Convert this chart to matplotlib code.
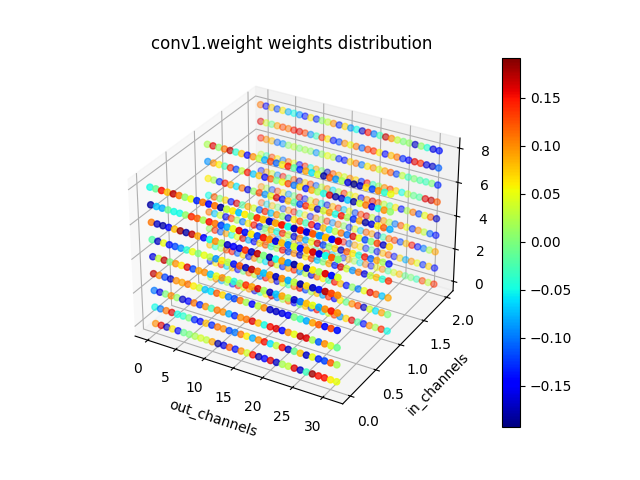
import numpy as np
import matplotlib
matplotlib.use("Agg")
import matplotlib.pyplot as plt

# weights, one row per kernel index (bottom row first)
plane_in0 = [
    [0.10,0.16,-0.17,0.06,-0.15,-0.01,0.00,0.02, 0.04,0.03,0.09,-0.18,-0.16,0.12,-0.14,0.10, 0.04,0.15,-0.18,-0.15,0.16,-0.17,0.02,0.03, 0.16,-0.17,-0.03,0.18,0.15,0.15,0.06,0.05],
    [-0.05,-0.10,0.11,0.16,-0.05,-0.04,0.00,-0.13, -0.15,0.08,-0.13,0.11,0.10,-0.12,-0.10,0.11, 0.06,-0.08,0.10,0.15,-0.06,0.03,0.15,-0.17, -0.01,0.08,-0.17,0.05,-0.13,-0.12,0.12,0.02],
    [-0.10,-0.16,0.00,0.10,0.01,-0.17,-0.15,0.11, -0.13,0.10,-0.03,0.11,0.10,-0.08,-0.13,0.10, 0.11,0.16,0.08,-0.05,0.15,0.16,-0.15,0.10, 0.05,0.17,0.16,0.02,-0.11,0.10,0.04,-0.01],
    [0.17,0.10,-0.12,-0.17,0.10,0.09,0.11,0.06, 0.04,-0.07,-0.06,0.12,0.07,-0.10,-0.12,0.11, 0.02,-0.15,0.03,0.10,-0.17,-0.17,-0.16,-0.15, 0.00,-0.03,-0.08,0.09,0.12,-0.15,0.13,-0.14],
    [-0.16,0.03,0.17,0.00,0.10,0.06,0.16,-0.12, 0.09,0.10,-0.07,0.05,0.10,0.04,-0.04,0.01, 0.14,0.09,0.16,0.02,-0.17,-0.07,0.09,0.02, -0.17,-0.10,0.08,0.05,-0.08,0.10,0.15,0.10],
    [-0.02,-0.17,0.05,-0.14,-0.12,-0.09,-0.04,0.05, 0.00,0.05,0.03,-0.09,0.06,0.03,-0.14,0.12, -0.17,0.17,0.11,-0.07,0.09,-0.17,0.10,-0.08, 0.03,-0.18,0.07,-0.17,-0.14,0.17,0.13,0.10],
    [0.11,-0.17,-0.18,-0.15,0.08,0.18,-0.18,0.17, 0.09,-0.15,-0.05,0.10,0.02,-0.17,-0.15,-0.16, 0.14,-0.17,0.17,0.00,-0.18,-0.05,0.09,-0.09, -0.18,0.07,-0.17,0.06,0.02,0.16,-0.14,0.04],
    [-0.18,-0.07,-0.08,-0.01,-0.05,-0.05,0.01,0.14, 0.12,0.02,0.15,0.11,-0.12,-0.08,0.05,0.16, -0.14,0.06,-0.12,0.15,0.10,-0.16,0.08,-0.10, 0.04,-0.14,0.09,0.16,-0.16,-0.05,0.12,0.00],
    [-0.05,-0.01,0.15,0.08,0.17,0.11,0.01,0.05, -0.13,0.11,-0.15,0.11,-0.18,0.03,0.06,-0.07, 0.06,0.01,0.14,0.08,-0.17,0.09,0.15,-0.05, -0.17,0.15,-0.16,0.12,-0.09,0.08,-0.14,0.16],
]
plane_in1 = [
    [0.03,0.10,-0.08,0.01,-0.13,0.14,0.05,0.10, -0.16,-0.04,0.06,0.16,-0.10,0.02,0.11,-0.15, 0.00,0.08,-0.12,0.15,-0.06,0.04,0.13,-0.09, 0.07,0.16,-0.02,-0.14,0.10,0.02,0.14,-0.05],
    [-0.13,0.06,0.14,-0.06,0.08,-0.15,0.00,0.12, 0.03,-0.10,0.15,0.09,-0.16,0.05,-0.03,0.11, 0.16,-0.12,0.02,0.08,-0.08,0.14,-0.15,0.06, -0.01,0.10,0.13,-0.17,0.04,-0.06,0.09,0.00],
    [0.08,-0.04,0.02,0.12,0.15,-0.11,0.07,-0.14, 0.10,0.00,-0.06,0.16,0.04,-0.13,0.09,0.14, -0.09,0.03,-0.16,0.11,0.06,-0.03,0.15,0.08, -0.14,0.01,-0.10,0.05,0.16,0.12,-0.07,0.09],
    [0.01,0.14,-0.11,0.09,-0.05,0.05,0.16,-0.08, -0.15,0.07,0.12,-0.03,0.02,0.15,-0.12,0.10, -0.17,0.06,0.13,-0.07,0.00,0.09,-0.13,0.16, 0.04,-0.09,0.11,-0.16,0.03,0.08,-0.04,0.14],
    [0.11,-0.07,0.04,-0.15,0.13,0.02,-0.10,0.06, 0.15,-0.13,0.00,0.08,-0.05,0.14,0.03,-0.16, 0.10,-0.08,0.05,0.16,-0.12,0.01,0.07,-0.17, 0.12,0.06,-0.04,0.15,-0.11,0.09,0.02,-0.14],
    [-0.05,0.12,0.00,0.07,-0.14,0.16,-0.02,0.09, 0.04,-0.11,0.14,-0.07,0.10,0.01,-0.16,0.06, 0.12,-0.03,0.15,-0.15,0.08,-0.06,0.03,0.11, -0.10,0.16,0.05,-0.12,0.00,0.13,-0.17,0.07],
    [0.06,0.02,-0.13,0.15,0.09,-0.06,0.11,-0.16, 0.01,0.13,-0.09,0.05,0.16,-0.14,0.08,-0.02, -0.12,0.14,0.07,-0.17,0.04,0.10,-0.05,0.15, 0.02,-0.13,0.09,-0.18,-0.16,0.06,0.12,-0.08],
    [-0.09,0.10,0.06,-0.03,0.14,-0.12,0.03,0.15, -0.07,0.08,-0.15,0.12,0.00,0.05,0.13,-0.10, 0.07,-0.14,0.09,0.02,-0.05,0.16,-0.18,-0.17,-0.07,-0.18,0.04,0.11,-0.16,-0.05,0.10,0.01],
    [0.02,0.16,0.01,0.11,0.17,-0.04,0.08,-0.15, 0.10,0.03,-0.08,0.13,-0.11,0.06,0.15,-0.02, -0.13,0.09,-0.06,0.04,-0.18,0.12,-0.09,0.02, -0.16,-0.19,-0.17,0.07,-0.12,0.10,-0.04,0.05],
]
plane_in2 = [
    [-0.01,0.03,0.11,-0.09,0.05,-0.05,0.09,-0.12, 0.12,0.03,-0.03,0.10,0.15,-0.07,0.00,-0.13, 0.08,0.02,-0.06,0.11,-0.14,0.05,0.10,-0.02, 0.04,0.08,-0.01,0.00,-0.03,0.13,0.03,0.14],
    [0.05,0.10,-0.15,0.01,0.13,-0.03,0.11,0.07, -0.10,0.16,0.00,-0.14,0.10,0.03,-0.06,0.15, -0.11,0.09,0.06,-0.13,-0.01,-0.15,0.08,0.12, -0.14,0.07,-0.08,0.10,0.05,-0.13,0.07,-0.14],
    [0.12,-0.06,0.08,0.00,-0.12,0.09,0.15,-0.04, 0.06,-0.15,0.10,0.02,0.14,-0.09,0.11,0.01, -0.13,0.05,-0.07,0.12,0.09,-0.16,-0.03,0.11, 0.13,-0.12,0.08,0.15,-0.14,-0.10,0.02,0.09],
    [0.10,0.02,-0.12,0.13,0.06,-0.09,0.00,0.16, -0.14,0.04,0.11,-0.05,-0.16,0.08,0.14,-0.07, 0.05,-0.12,0.13,0.16,0.03,-0.14,0.09,0.02, -0.10,0.12,0.05,-0.13,0.10,0.03,-0.11,-0.14],
    [-0.14,0.09,0.04,-0.09,0.15,-0.02,0.12,-0.17, 0.07,0.13,-0.11,0.03,0.10,-0.06,0.02,0.14, 0.04,0.06,-0.15,0.10,0.16,0.12,0.03,-0.02, 0.06,-0.14,0.02,0.11,-0.12,0.05,0.12,-0.17],
    [0.03,-0.03,0.13,0.06,-0.10,0.11,0.05,-0.15, 0.14,-0.05,0.09,0.00,-0.17,0.12,0.08,0.04, 0.10,0.07,-0.13,0.15,-0.03,0.01,0.10,0.13, 0.07,-0.05,0.03,-0.01,-0.02,0.16,0.17,0.12],
    [0.15,0.10,0.08,-0.11,-0.09,0.01,0.03,0.00, 0.02,0.01,-0.09,0.01,0.05,0.03,-0.13,-0.14, 0.07,0.11,-0.10,0.06,0.10,0.04,0.09,0.12, -0.12,0.03,-0.03,0.00,-0.02,-0.03,0.00,-0.13],
    [0.16,0.04,-0.01,0.09,0.13,0.11,0.15,0.16, 0.13,-0.09,-0.03,0.14,0.06,-0.14,-0.12,0.10, 0.05,0.11,-0.11,0.13,0.14,0.06,-0.15,0.08, 0.11,-0.13,-0.15,0.16,0.14,-0.16,-0.17,-0.11],
    [0.11,-0.15,0.07,-0.12,0.06,-0.08,-0.05,-0.09, -0.14,0.06,-0.13,0.01,0.03,0.10,-0.13,0.07, -0.09,-0.05,-0.17,0.15,-0.10,-0.03,0.17,0.10, 0.03,0.00,0.01,-0.17,0.01,-0.04,-0.16,-0.14],
]
in_channels = [0, 1, 2]
kernel_rows = list(range(9))
out_channels = list(range(32))

x, y, z, c = [], [], [], []
for ch, plane in zip(in_channels, [plane_in0, plane_in1, plane_in2]):
    for k in kernel_rows:
        for o in out_channels:
            x.append(o)
            y.append(ch)
            z.append(k)
            c.append(plane[k][o])

fig = plt.figure(figsize=(6.4, 4.8), dpi=100)
ax = fig.add_subplot(projection='3d')
p = ax.scatter(x, y, z, c=c, cmap='jet', vmin=-0.193, vmax=0.192)
fig.colorbar(p, ax=ax)
ax.set_xlabel('out_channels')
ax.set_ylabel('in_channels')
ax.set_title('conv1.weight weights distribution')
fig.savefig('out.png')
